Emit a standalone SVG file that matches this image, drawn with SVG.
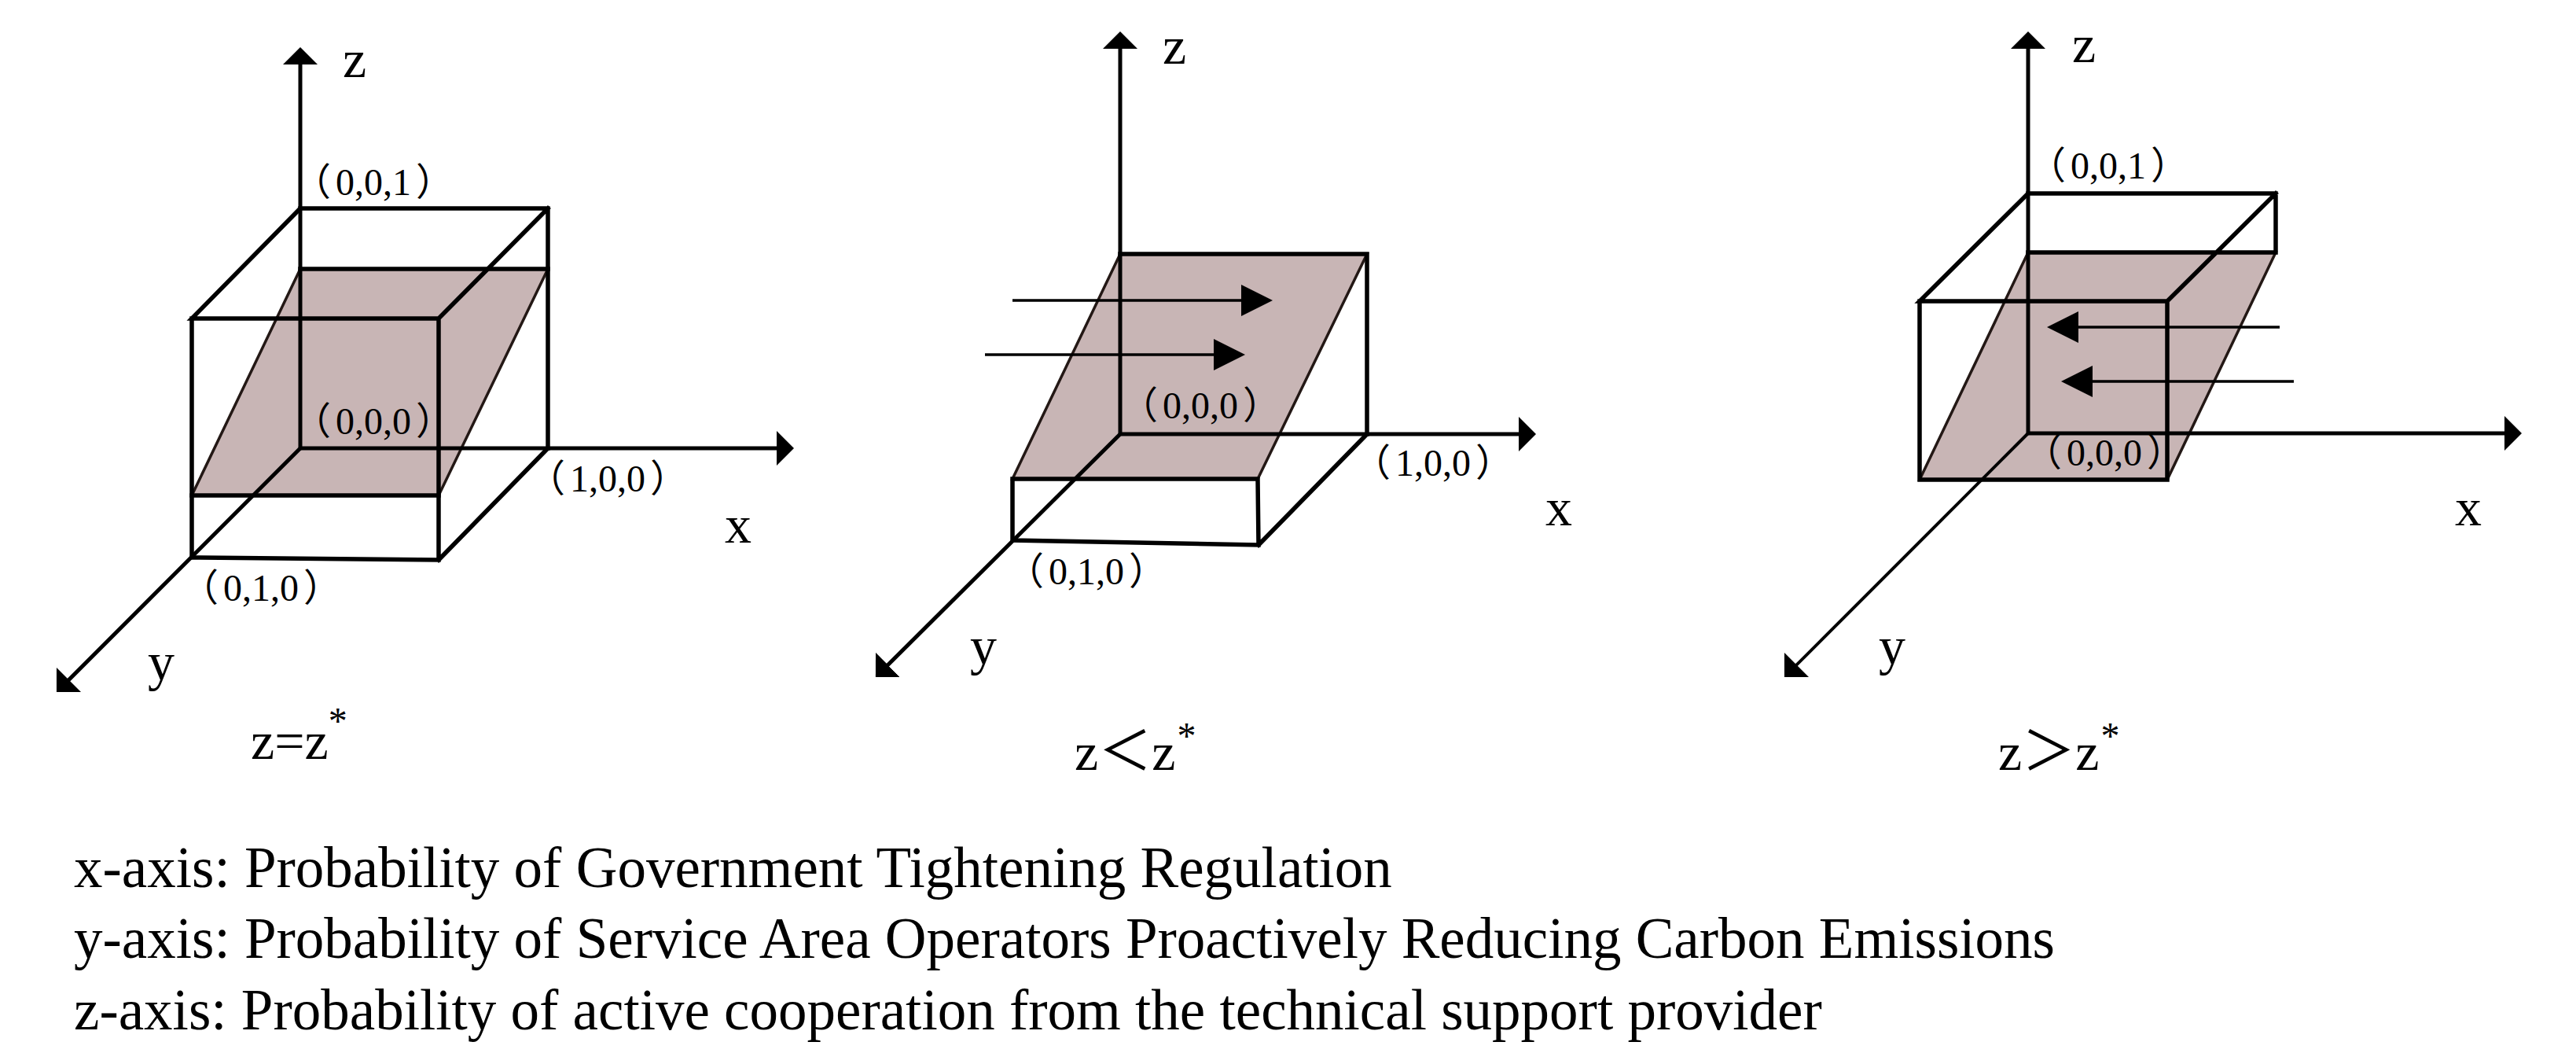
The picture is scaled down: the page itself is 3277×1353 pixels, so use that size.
<svg xmlns="http://www.w3.org/2000/svg" width="3277" height="1353" viewBox="0 0 3277 1353">
<style>
.bg{fill:#ffffff}
.edge{fill:none;stroke:#000;stroke-width:5.5;stroke-linecap:square;stroke-linejoin:miter}
.axis{fill:none;stroke:#000;stroke-width:5}
.thin{fill:none;stroke:#000;stroke-width:4}
.plane{fill:#c8b5b5;stroke:#231815;stroke-width:3.5;stroke-linejoin:miter}
.flow{fill:none;stroke:#000;stroke-width:3.5}
.coord{font-family:"Liberation Serif","Noto Sans CJK SC",serif;font-size:48px;fill:#000}
.axlab{font-family:"Liberation Serif","Noto Sans CJK SC",serif;font-size:68px;fill:#000}
.cond{font-family:"Liberation Serif","Noto Sans CJK SC",serif;font-size:68px;fill:#000}
.star{font-family:"Liberation Serif",serif;font-size:48px}
.legend{font-family:"Liberation Serif",serif;font-size:73px;fill:#000}
</style>
<defs>
<marker id="axisHead" markerUnits="userSpaceOnUse" markerWidth="24" markerHeight="44" refX="1" refY="22" orient="auto">
<path d="M0,0 L22,22 L0,44 Z" fill="#000"/>
</marker>
<marker id="flowHead" markerUnits="userSpaceOnUse" markerWidth="41" markerHeight="40" refX="1" refY="20" orient="auto">
<path d="M0,0 L40,20 L0,40 Z" fill="#000"/>
</marker>
</defs>
<rect class="bg" x="0" y="0" width="3277" height="1353"/>

<!-- Panel 1: z = z* -->
<g id="panel-equal">
<g id="plane-1">
<polygon class="plane" points="382,342 697,342 558,630 244,630"/>
</g>
<g id="box-1">
<path class="edge" d="M382,265 L697,265 L697,570 M382,265 L244,405 L558,405 L697,265 M244,405 L244,709 L558,712 L558,405 M558,712 L697,570"/>
<path class="edge" d="M382,342 L697,342 M244,630 L558,630"/>
</g>
<g id="axes-1">
<line class="axis" x1="382" y1="570" x2="382" y2="81" marker-end="url(#axisHead)"/>
<line class="axis" x1="382" y1="570" x2="989" y2="570" marker-end="url(#axisHead)"/>
<line class="axis" x1="382" y1="570" x2="86.8" y2="865.2" marker-end="url(#axisHead)"/>
</g>
<g id="labels-1">
<text class="axlab" x="436" y="98">z</text>
<text class="axlab" x="922" y="690">x</text>
<text class="axlab" x="188" y="865">y</text>
<text class="coord" x="373" y="248">（<tspan dx="6">0,0,1</tspan><tspan dx="6">）</tspan></text>
<text class="coord" x="373" y="552">（<tspan dx="6">0,0,0</tspan><tspan dx="6">）</tspan></text>
<text class="coord" x="671" y="625">（<tspan dx="6">1,0,0</tspan><tspan dx="6">）</tspan></text>
<text class="coord" x="230" y="764">（<tspan dx="6">0,1,0</tspan><tspan dx="6">）</tspan></text>
<text class="cond" x="319" y="965">z=z<tspan class="star" dx="0" dy="-32">*</tspan></text>
</g>
</g>

<!-- Panel 2: z < z* -->
<g id="panel-less">
<g id="plane-2">
<polygon class="plane" points="1425,323 1739,323 1600,609 1288,609"/>
</g>
<g id="box-2">
<path class="edge" d="M1425,323 L1739,323 L1739,552 M1288,609 L1600,609 M1288,609 L1288,687 L1601,693 L1600,609 M1601,693 L1739,552"/>
</g>
<g id="axes-2">
<line class="axis" x1="1425" y1="552" x2="1425" y2="61" marker-end="url(#axisHead)"/>
<line class="axis" x1="1425" y1="552" x2="1933" y2="552" marker-end="url(#axisHead)"/>
<line class="axis" x1="1425" y1="552" x2="1128.8" y2="846.2" marker-end="url(#axisHead)"/>
</g>
<g id="connectors-2">
<line class="flow" x1="1288" y1="382" x2="1580" y2="382" marker-end="url(#flowHead)"/>
<line class="flow" x1="1253" y1="451" x2="1545" y2="451" marker-end="url(#flowHead)"/>
</g>
<g id="labels-2">
<text class="axlab" x="1479" y="81">z</text>
<text class="axlab" x="1966" y="668">x</text>
<text class="axlab" x="1234" y="845">y</text>
<text class="coord" x="1425" y="532">（<tspan dx="6">0,0,0</tspan><tspan dx="6">）</tspan></text>
<text class="coord" x="1721" y="605">（<tspan dx="6">1,0,0</tspan><tspan dx="6">）</tspan></text>
<text class="coord" x="1280" y="743">（<tspan dx="6">0,1,0</tspan><tspan dx="6">）</tspan></text>
<text class="cond" x="1367" y="979">z＜z<tspan class="star" dx="2" dy="-27">*</tspan></text>
</g>
</g>

<!-- Panel 3: z > z* -->
<g id="panel-greater">
<g id="plane-3">
<polygon class="plane" points="2580,321 2895,321 2757,610 2442,610"/>
</g>
<g id="box-3">
<path class="edge" d="M2580,246 L2895,246 L2895,321 M2580,246 L2442,383 L2757,383 L2895,246 M2442,383 L2442,610 L2757,610 L2757,383 M2580,321 L2895,321"/>
</g>
<g id="axes-3">
<line class="axis" x1="2580" y1="551" x2="2580" y2="61" marker-end="url(#axisHead)"/>
<line class="axis" x1="2580" y1="551" x2="3187" y2="551" marker-end="url(#axisHead)"/>
<line class="thin" x1="2580" y1="551" x2="2284.8" y2="846.2" marker-end="url(#axisHead)"/>
</g>
<g id="connectors-3">
<line class="flow" x1="2900" y1="416" x2="2643" y2="416" marker-end="url(#flowHead)"/>
<line class="flow" x1="2918" y1="485" x2="2661" y2="485" marker-end="url(#flowHead)"/>
</g>
<g id="labels-3">
<text class="axlab" x="2636" y="79">z</text>
<text class="axlab" x="3123" y="668">x</text>
<text class="axlab" x="2390" y="845">y</text>
<text class="coord" x="2580" y="227">（<tspan dx="6">0,0,1</tspan><tspan dx="6">）</tspan></text>
<text class="coord" x="2575" y="592">（<tspan dx="6">0,0,0</tspan><tspan dx="6">）</tspan></text>
<text class="cond" x="2542" y="979">z＞z<tspan class="star" dx="2" dy="-27">*</tspan></text>
</g>
</g>

<!-- Legend -->
<g id="legend">
<text class="legend" x="94" y="1128">x-axis: Probability of Government Tightening Regulation</text>
<text class="legend" x="94" y="1218">y-axis: Probability of Service Area Operators Proactively Reducing Carbon Emissions</text>
<text class="legend" x="94" y="1309">z-axis: Probability of active cooperation from the technical support provider</text>
</g>
</svg>
